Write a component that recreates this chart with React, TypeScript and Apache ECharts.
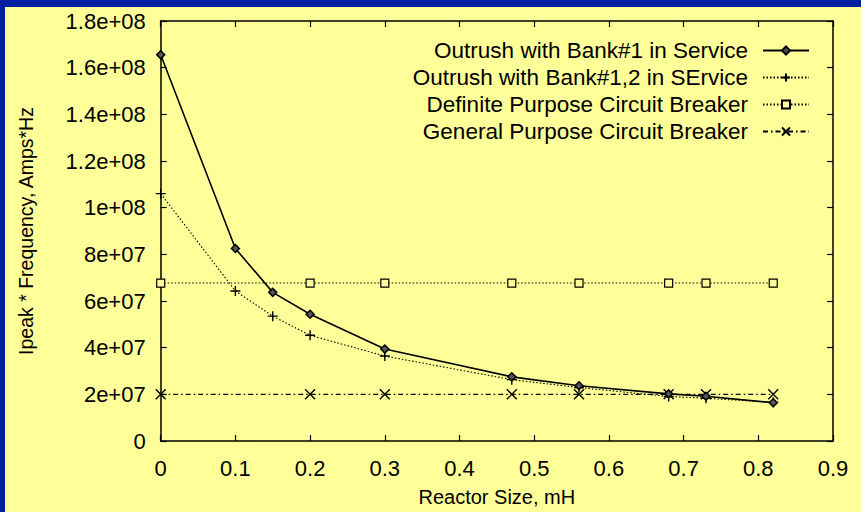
import React, { useEffect, useRef } from "react";
import * as echarts from "echarts";

const reactorSize = [0, 0.1, 0.15, 0.2, 0.3, 0.47, 0.56, 0.68, 0.73, 0.82];
const outrushBank1 = [1.655e8, 8.25e7, 6.37e7, 5.43e7, 3.94e7, 2.75e7, 2.37e7, 2.02e7, 1.92e7, 1.64e7];
const outrushBank12 = [1.06e8, 6.43e7, 5.35e7, 4.53e7, 3.64e7, 2.63e7, 2.29e7, 1.91e7, 1.83e7, 1.66e7];
const breakerSize = [0, 0.2, 0.3, 0.47, 0.56, 0.68, 0.73, 0.82];
const definitePurpose = [6.77e7, 6.77e7, 6.77e7, 6.77e7, 6.77e7, 6.77e7, 6.77e7, 6.77e7];
const generalPurpose = [2.0e7, 2.0e7, 2.0e7, 2.0e7, 2.0e7, 2.0e7, 2.0e7, 2.0e7];
const seriesNames = [
  "Outrush with Bank#1 in Service",
  "Outrush with Bank#1,2 in SErvice",
  "Definite Purpose Circuit Breaker",
  "General Purpose Circuit Breaker",
];
const xAxisName = "Reactor Size, mH";
const yAxisName = "Ipeak * Frequency, Amps*Hz";

const FONT = "'Liberation Sans', Arial, sans-serif";
const BG = "#ffff99";

function fmtY(v: number): string {
  if (v === 0) return "0";
  const e = Math.floor(Math.log10(v) + 1e-9);
  const m = Math.round((v / Math.pow(10, e)) * 100) / 100;
  return `${m}e+${e < 10 ? "0" + e : e}`;
}

function zip(xs: number[], ys: number[]) {
  return xs.map((x, i) => [x, ys[i]]);
}

export default function App() {
  const ref = useRef<HTMLDivElement>(null);
  useEffect(() => {
    document.body.style.margin = "0";
    if (!ref.current) return;
    const chart = echarts.init(ref.current, undefined, { renderer: "svg" });
    const legendCenters = [51, 78, 105, 132];
    const tickText = { fontSize: 22, color: "#000", fontFamily: FONT };
    const legendText = { fontSize: 22.5, color: "#000", fontFamily: FONT };
    const option: any = {
      animation: false,
      backgroundColor: BG,
      textStyle: { fontFamily: FONT },
      grid: { left: 160.7, top: 21, right: 28, bottom: 66 },
      graphic: [
        { type: "rect", shape: { x: 0, y: 0, width: 861, height: 7 }, style: { fill: "#0020a0" }, z: 100 },
        { type: "rect", shape: { x: 0, y: 0, width: 5, height: 512 }, style: { fill: "#0020a0" }, z: 100 },
      ],
      legend: seriesNames.map((n, i) => ({
        data: [n],
        right: 51,
        top: legendCenters[i] - 12,
        padding: 0,
        orient: "vertical",
        align: "right",
        itemWidth: 46,
        itemHeight: 10,
        selectedMode: false,
        textStyle: { ...legendText, padding: [0, 10, 0, 0] },
      })),
      xAxis: [
        {
          type: "value",
          min: 0,
          max: 0.9,
          interval: 0.1,
          position: "bottom",
          name: xAxisName,
          nameLocation: "middle",
          nameGap: 46,
          nameTextStyle: { fontSize: 20, color: "#000", fontFamily: FONT },
          axisLine: { show: true, onZero: false, lineStyle: { color: "#000", width: 1.5 } },
          axisTick: { show: true, inside: true, length: 6, lineStyle: { color: "#000", width: 1.2 } },
          axisLabel: { ...tickText, margin: 16 },
          splitLine: { show: false },
        },
        {
          type: "value",
          min: 0,
          max: 0.9,
          interval: 0.1,
          position: "top",
          axisLine: { show: true, onZero: false, lineStyle: { color: "#000", width: 1.5 } },
          axisTick: { show: true, inside: true, length: 6, lineStyle: { color: "#000", width: 1.2 } },
          axisLabel: { show: false },
          splitLine: { show: false },
        },
      ],
      yAxis: [
        {
          type: "value",
          min: 0,
          max: 1.8e8,
          interval: 2e7,
          position: "left",
          name: yAxisName,
          nameLocation: "middle",
          nameGap: 125,
          nameTextStyle: { fontSize: 19.5, color: "#000", fontFamily: FONT },
          axisLine: { show: true, onZero: false, lineStyle: { color: "#000", width: 1.5 } },
          axisTick: { show: true, inside: true, length: 6, lineStyle: { color: "#000", width: 1.2 } },
          axisLabel: { ...tickText, margin: 15, formatter: fmtY },
          splitLine: { show: false },
        },
        {
          type: "value",
          min: 0,
          max: 1.8e8,
          interval: 2e7,
          position: "right",
          axisLine: { show: true, onZero: false, lineStyle: { color: "#000", width: 1.5 } },
          axisTick: { show: true, inside: true, length: 6, lineStyle: { color: "#000", width: 1.2 } },
          axisLabel: { show: false },
          splitLine: { show: false },
        },
      ],
      series: [
        {
          name: seriesNames[0],
          type: "line",
          data: zip(reactorSize, outrushBank1),
          symbol: "diamond",
          symbolSize: 8,
          lineStyle: { color: "#000", width: 1.6, type: "solid" },
          itemStyle: { color: "#555", borderColor: "#000", borderWidth: 1.5 },
          z: 5,
        },
        {
          name: seriesNames[1],
          type: "line",
          data: zip(reactorSize, outrushBank12),
          symbol: "path://M5,0L5,10M0,5L10,5",
          symbolSize: 10,
          lineStyle: { color: "#000", width: 1.1, type: [1.5, 2] },
          itemStyle: { color: "transparent", borderColor: "#000", borderWidth: 1.4 },
          z: 4,
        },
        {
          name: seriesNames[2],
          type: "line",
          data: zip(breakerSize, definitePurpose),
          symbol: "rect",
          symbolSize: 8,
          lineStyle: { color: "#000", width: 1.1, type: [1.5, 2] },
          itemStyle: { color: BG, borderColor: "#000", borderWidth: 1.2 },
          z: 3,
        },
        {
          name: seriesNames[3],
          type: "line",
          data: zip(breakerSize, generalPurpose),
          symbol: "path://M0,0L10,10M10,0L0,10",
          symbolSize: 10,
          lineStyle: { color: "#000", width: 1.1, type: [5, 3, 1.5, 3] },
          itemStyle: { color: "transparent", borderColor: "#000", borderWidth: 1.4 },
          z: 3,
        },
      ],
    };
    chart.setOption(option);
    return () => chart.dispose();
  }, []);
  return <div ref={ref} style={{ width: 861, height: 512 }} />;
}
